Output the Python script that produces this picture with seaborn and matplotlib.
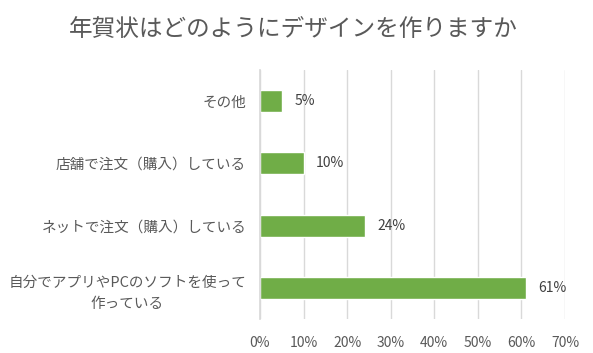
import matplotlib
matplotlib.use("Agg")
import matplotlib.pyplot as plt
import seaborn as sns
import pandas as pd
from matplotlib.ticker import PercentFormatter

categories = ["その他", "店舗で注文（購入）している", "ネットで注文（購入）している",
              "自分でアプリやPCのソフトを使って\n作っている"]
values = [5, 10, 24, 61]
xticks = [0, 10, 20, 30, 40, 50, 60, 70]
title = "年賀状はどのようにデザインを作りますか"

sns.set_theme(style="white")
plt.rcParams['font.family'] = ['Noto Sans CJK JP', 'DejaVu Sans']

df = pd.DataFrame({"cat": categories, "val": values})

fig = plt.figure(figsize=(5.93, 3.53), dpi=100)
ax = fig.add_axes([260/593, 1 - 319/353, (565-260)/593, (319-70)/353])

sns.barplot(data=df, y="cat", x="val", color="#70AD47", width=0.35, ax=ax,
            saturation=1, orient="h")

ax.set_xlim(0, 70)
ax.set_xticks(xticks)
ax.xaxis.set_major_formatter(PercentFormatter(decimals=0))
ax.grid(axis="x", color="#D9D9D9", linewidth=1)
ax.set_axisbelow(True)
for s in ["top", "right", "bottom"]:
    ax.spines[s].set_visible(False)
ax.spines["left"].set_color("#D9D9D9")
ax.set_xlabel("")
ax.set_ylabel("")
ax.tick_params(axis="x", colors="#595959", labelsize=10, length=0, pad=12)
ax.tick_params(axis="y", colors="#595959", labelsize=10.5, length=0, pad=10)
for lab in ax.get_yticklabels():
    lab.set_horizontalalignment("right")
    lab.set_multialignment("center")
    lab.set_linespacing(1.7)

for c in ax.containers:
    ax.bar_label(c, labels=[f"{v}%" for v in values], padding=9, fontsize=10,
                 color="#404040")

fig.text(293/593, 1 - 30/353, title, ha="center", va="center", fontsize=17,
         color="#595959")

fig.savefig("out.png", dpi=100)
